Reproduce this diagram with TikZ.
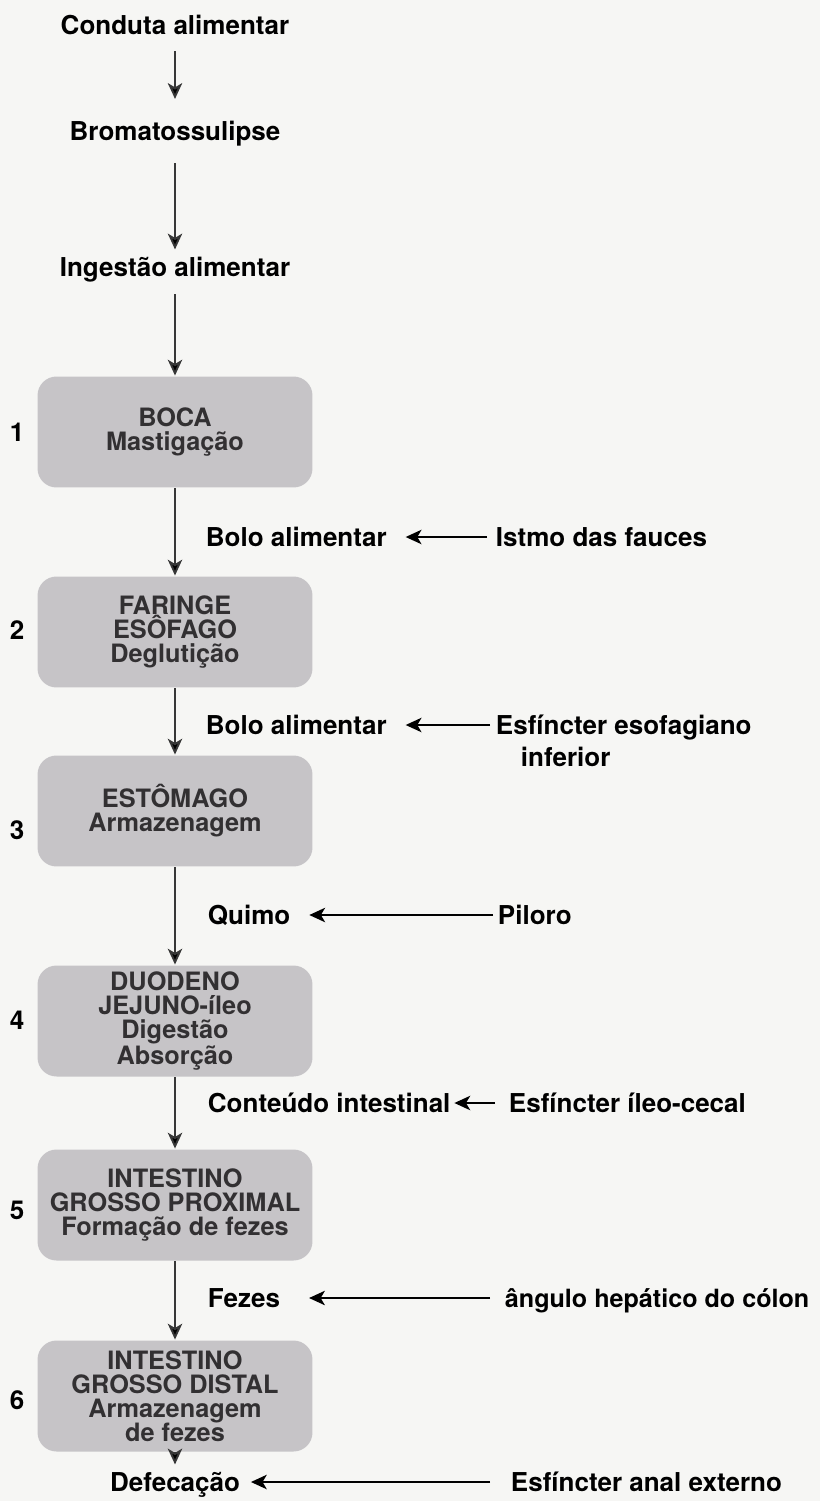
\documentclass[tikz,border=0pt]{standalone}
\usepackage{fontspec}
\setmainfont{TeX Gyre Heros}
\usetikzlibrary{positioning,arrows.meta}

\definecolor{paper}{RGB}{246,246,244}
\definecolor{boxgray}{RGB}{198,196,199}
\definecolor{boxtext}{RGB}{50,48,50}
\definecolor{linegray}{RGB}{55,55,55}

\tikzset{
  organ/.style={rounded corners=0.38cm, fill=boxgray, text=boxtext,
    minimum width=5.5cm, minimum height=2.22cm, align=center, inner sep=0pt,
    font=\fontsize{14.4pt}{13.7pt}\selectfont\bfseries},
  flow/.style={text=black, inner sep=0.04cm, text height=13.6pt, text depth=3pt,
    font=\fontsize{14.8pt}{17pt}\selectfont\bfseries},
  side/.style={flow, inner sep=0pt, anchor=west},
  pass/.style={draw=linegray},
  feed/.style={draw=black},
}

\begin{document}
\begin{tikzpicture}[x=0.02cm, y=-0.02cm, ->, >={Stealth[length=9pt,width=8.2pt,inset=2.4pt]}, line width=1.1pt]
\path[use as bounding box, fill=paper, -] (0,0) rectangle (820,1501);

% main column
\node[flow] (cond) at (175,25) {Conduta alimentar};
\node[flow] (brom) at (175,131) {Bromatossulipse};
\node[flow] (inges) at (175,267) {Ingestão alimentar};
\node[organ] (boca) at (175,432) {BOCA\\Mastigação};
\node[organ] (faringe) at (175,632) {FARINGE\\ESÔFAGO\\Deglutição};
\node[organ] (estomago) at (175,811) {ESTÔMAGO\\Armazenagem};
\node[organ] (duodeno) at (175,1021) {DUODENO\\JEJUNO-íleo\\Digestão\\Absorção};
\node[organ] (igp) at (175,1205) {INTESTINO\\GROSSO PROXIMAL\\Formação de fezes};
\node[organ] (igd) at (175,1396) {INTESTINO\\GROSSO DISTAL\\Armazenagem\\de fezes};
\node[flow] (defec) at (175,1482) {Defecação};

\node[flow, inner sep=0pt] (n1) at (17,432) {1};
\node[flow, inner sep=0pt] (n2) at (17,630) {2};
\node[flow, inner sep=0pt] (n3) at (17,830) {3};
\node[flow, inner sep=0pt] (n4) at (17,1020) {4};
\node[flow, inner sep=0pt] (n5) at (17,1210) {5};
\node[flow, inner sep=0pt] (n6) at (17,1400) {6};

\path[pass] (cond) edge[shorten <=0.17cm, shorten >=0.29cm] (brom);
\path[pass] (brom) edge[shorten <=0.29cm] (inges);
\path[pass] (inges) edge[shorten <=0.19cm] (boca);
\path[pass] (boca) edge (faringe);
\path[pass] (faringe) edge (estomago);
\path[pass] (estomago) edge (duodeno);
\path[pass] (duodeno) edge (igp);
\path[pass] (igp) edge (igd);
\path[pass] (igd) edge (defec);

% what passes each barrier
\node[side] (bolo1) at (205,537) {Bolo alimentar};
\node[side] (istmo) at (495,537) {Istmo das fauces};
\node[side] (bolo2) at (205,725) {Bolo alimentar};
\node[side] (esof) at (495,725) {Esfíncter esofagiano};
\node[side] (inf) at (520,757) {inferior};
\node[side] (quimo) at (207,915) {Quimo};
\node[side] (piloro) at (497,915) {Piloro};
\node[side] (cont) at (207,1103) {Conteúdo intestinal};
\node[side] (ileo) at (508,1103) {Esfíncter íleo-cecal};
\node[side] (fezes) at (207,1298) {Fezes};
\node[side, font=\fontsize{14.3pt}{17pt}\selectfont\bfseries] (angulo) at (504,1298) {ângulo hepático do cólon};
\node[side] (anal) at (510,1482) {Esfíncter anal externo};

\path[feed] (istmo) edge[shorten <=0.16cm, shorten >=0.36cm] (bolo1);
\path[feed] (esof) edge[shorten <=0.1cm, shorten >=0.36cm] (bolo2);
\path[feed] (piloro) edge[shorten <=0.08cm, shorten >=0.36cm] (quimo);
\path[feed] (ileo) edge[shorten <=0.26cm, shorten >=0.06cm] (cont);
\path[feed] (angulo) edge[shorten <=0.28cm, shorten >=0.56cm] (fezes);
\path[feed] (anal) edge[shorten <=0.4cm, shorten >=0.16cm] (defec);

\end{tikzpicture}
\end{document}
